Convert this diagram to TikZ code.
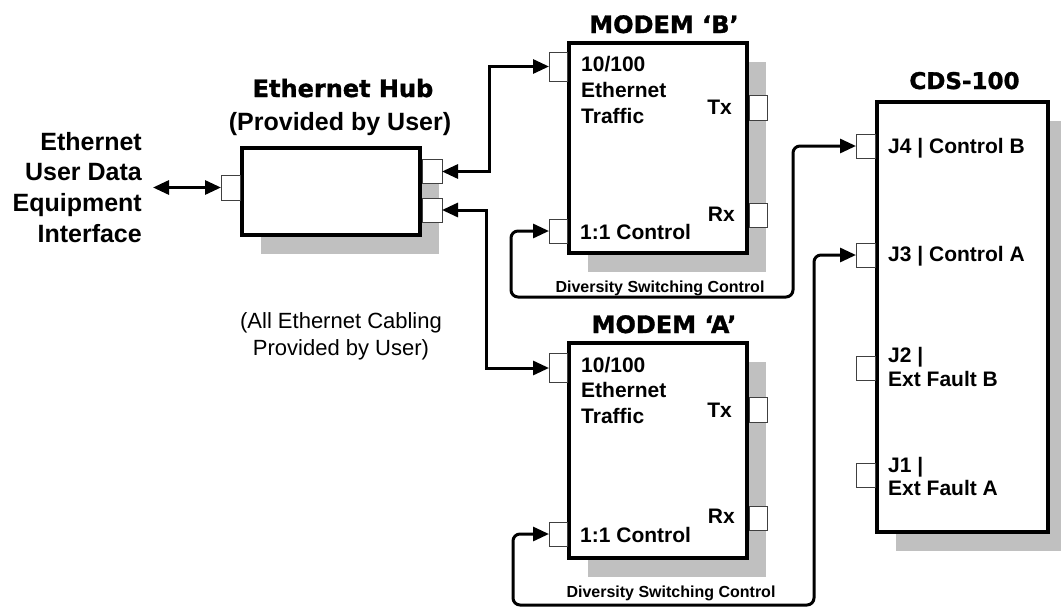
\documentclass[tikz,border=0pt]{standalone}
\usepackage{fontspec}
\setmainfont{Liberation Sans}
\newfontfamily\heavy{DejaVu Sans}[FakeBold=1.3]
\usetikzlibrary{arrows.meta,shadows}
\definecolor{shadowgray}{HTML}{C0C0C0}
\begin{document}
\begin{tikzpicture}[x=1pt,y=-1pt,
  box/.style={draw=black, line width=4pt, fill=white, inner sep=0pt,
    drop shadow={shadow xshift=19pt, shadow yshift=-19pt, fill=shadowgray, opacity=1}},
  port/.style={draw=black!75, line width=0.8pt, fill=white, inner sep=0pt, outer sep=0pt,
    minimum width=19pt, minimum height=24pt},
  conn/.style={line width=3pt, {Triangle[length=16pt,width=14pt]}-{Triangle[length=16pt,width=14pt]}},
  txt/.style={inner sep=0pt, font=\bfseries\fontsize{21}{25}\selectfont},
  big/.style={inner sep=0pt, font=\bfseries\fontsize{25}{30}\selectfont},
  head/.style={inner sep=0pt, font=\heavy\bfseries\fontsize{24}{28}\selectfont},
  small/.style={inner sep=0pt, font=\bfseries\fontsize{16}{19}\selectfont},
  note/.style={inner sep=0pt, font=\fontsize{22}{26}\selectfont}]
\useasboundingbox (0,0) rectangle (1061,608);

% boxes
\node[box, minimum width=178pt, minimum height=87pt] (hub) at (331,191.5) {};
\node[box, minimum width=178pt, minimum height=210pt] (modB) at (658,148) {};
\node[box, minimum width=178pt, minimum height=215pt] (modA) at (658,450.5) {};
\node[box, minimum width=171pt, minimum height=430pt] (cds) at (962.5,317) {};

% ports
\node[port, anchor=east, minimum height=25pt] (hubL) at (240,187.5) {};
\node[port, anchor=west, minimum width=20pt] (hubR1) at (422,171.5) {};
\node[port, anchor=west, minimum width=20pt] (hubR2) at (422,210) {};

\node[port, anchor=east, minimum width=18pt, minimum height=29pt] (Beth) at (567,66.5) {};
\node[port, anchor=west, minimum width=18pt, minimum height=25pt] (Btx) at (749,107.5) {};
\node[port, anchor=west, minimum width=18pt] (Brx) at (749,215) {};
\node[port, anchor=east, minimum width=18pt] (Bctl) at (567,231) {};

\node[port, anchor=east, minimum width=18pt, minimum height=29pt] (Aeth) at (567,368) {};
\node[port, anchor=west, minimum width=18pt, minimum height=25pt] (Atx) at (749,409.5) {};
\node[port, anchor=west, minimum width=18pt] (Arx) at (749,518) {};
\node[port, anchor=east, minimum width=18pt] (Actl) at (567,534) {};

\node[port, anchor=east] (J4) at (875,146) {};
\node[port, anchor=east] (J3) at (875,255) {};
\node[port, anchor=east] (J2) at (875,368) {};
\node[port, anchor=east] (J1) at (875,475.5) {};

% connectors
\coordinate (user) at (153,187.5);
\draw[conn] (user) -- (hubL.west);
\draw[conn] (hubR1.east) -- ++(47,0) |- (Beth.west);
\draw[conn] (hubR2.east) -- ++(44,0) |- (Aeth.west);
\draw[conn, rounded corners=7pt] (Bctl.west) -- ++(-38,0) -- ++(0,66) -| ([xshift=-63pt]J4.west) -- (J4.west);
\draw[conn, rounded corners=7pt] (Actl.west) -- ++(-36,0) -- ++(0,71) -| ([xshift=-42pt]J3.west) -- (J3.west);

% left label
\node[big, anchor=base east] (l1) at (142,150) {Ethernet};
\node[big, anchor=base east] (l2) at (142,180) {User Data};
\node[big, anchor=base east] (l3) at (142,211) {Equipment};
\node[big, anchor=base east] (l4) at (142,242) {Interface};

% hub labels
\node[head, anchor=base] (hubt) at (343,97) {Ethernet Hub};
\node[big, anchor=base] (hubp) at (340,130) {(Provided by User)};
\node[note, anchor=base] (n1) at (341,328) {(All Ethernet Cabling};
\node[note, anchor=base] (n2) at (341,355) {Provided by User)};

% modem B
\node[head, anchor=base] (modBt) at (664,33) {MODEM ‘B’};
\node[txt, anchor=base west] (b1) at (581,71) {10/100};
\node[txt, anchor=base west] (b2) at (581,97) {Ethernet};
\node[txt, anchor=base west] (b3) at (581,123) {Traffic};
\node[txt, anchor=base east] (btx) at (732,114) {Tx};
\node[txt, anchor=base east] (brx) at (735,221) {Rx};
\node[txt, anchor=base west] (bctl) at (580,239) {1:1 Control};
\node[small, anchor=base] (bdiv) at (660,292) {Diversity Switching Control};

% modem A
\node[head, anchor=base] (modAt) at (664,333) {MODEM ‘A’};
\node[txt, anchor=base west] (a1) at (581,372) {10/100};
\node[txt, anchor=base west] (a2) at (581,397) {Ethernet};
\node[txt, anchor=base west] (a3) at (581,423) {Traffic};
\node[txt, anchor=base east] (atx) at (732,417) {Tx};
\node[txt, anchor=base east] (arx) at (735,523) {Rx};
\node[txt, anchor=base west] (actl) at (580,542) {1:1 Control};
\node[small, anchor=base] (adiv) at (671,597) {Diversity Switching Control};

% CDS
\node[head, anchor=base, font=\heavy\bfseries\fontsize{23}{28}\selectfont] (cdst) at (964.5,89) {CDS-100};
\node[txt, anchor=base west] (c4) at (888,153) {J4 | Control B};
\node[txt, anchor=base west] (c3) at (888,261) {J3 | Control A};
\node[txt, anchor=base west] (c2a) at (888,362) {J2 |};
\node[txt, anchor=base west] (c2b) at (888,386) {Ext Fault B};
\node[txt, anchor=base west] (c1a) at (888,472) {J1 |};
\node[txt, anchor=base west] (c1b) at (888,495) {Ext Fault A};
\end{tikzpicture}
\end{document}
